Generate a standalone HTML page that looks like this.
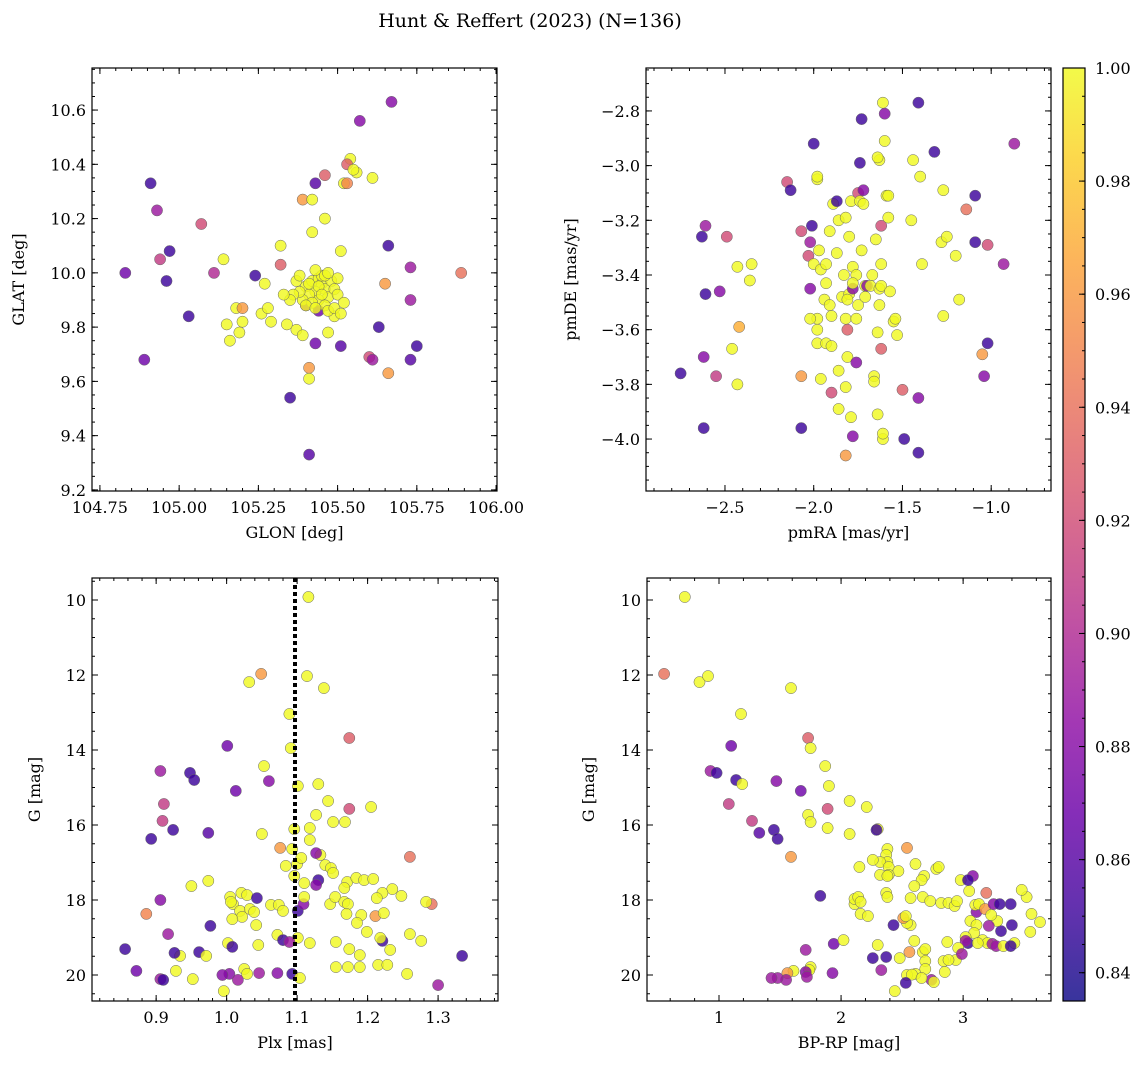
<!DOCTYPE html>
<html><head><meta charset="utf-8"><style>
html,body{margin:0;padding:0;background:#fff;}
svg{display:block;font-family:"DejaVu Serif","Liberation Serif",serif;}
</style></head><body>
<svg id="fig" width="1148" height="1068" viewBox="0 0 1148 1068" xmlns="http://www.w3.org/2000/svg">
<rect width="1148" height="1068" fill="#fff"/>
<text x="530" y="27" font-size="19" text-anchor="middle">Hunt &amp; Reffert (2023) (N=136)</text>
<defs><linearGradient id="cbg" x1="0" y1="1" x2="0" y2="0"></linearGradient></defs>
</svg>
<script>
// ---- Panel 1: GLON / GLAT ----
const lon1=[104.83,104.91,104.93,104.94,104.97,104.96,104.89,105.07,105.03,105.11,105.14,105.15,105.16,105.18,105.19,105.20,105.20,105.24,105.26,105.27,105.28,105.29,105.32,105.32,105.34,105.35,105.37,105.39,105.39,105.41,105.41,105.41,105.42,105.42,105.43,105.43,105.46,105.46,105.47,105.49,105.51,105.51,105.52,105.53,105.54,105.53,105.56,105.55,105.57,105.61,105.60,105.61,105.63,105.66,105.65,105.66,105.67,105.73,105.73,105.73,105.75,105.89,105.44,105.40,
105.40,105.42,105.44,105.45,105.43,105.41,105.39,105.46,105.47,105.44,105.42,105.48,105.45,105.38,105.36,105.40,105.46,105.49,105.50,105.47,105.43,105.41,105.37,105.44,105.46,105.49,105.52,105.35,105.38,105.50,105.43,105.47,105.33,105.51,105.45];
const lat1=[10.00,10.33,10.23,10.05,10.08,9.97,9.68,10.18,9.84,10.00,10.05,9.81,9.75,9.87,9.78,9.87,9.82,9.99,9.85,9.96,9.87,9.82,10.10,10.03,9.81,9.54,9.79,10.27,9.77,9.65,9.61,9.33,10.27,10.15,9.74,10.33,10.36,10.20,9.78,9.84,9.73,10.08,10.33,10.33,10.42,10.40,10.37,10.38,10.56,10.35,9.69,9.68,9.80,10.10,9.96,9.63,10.63,9.68,10.02,9.90,9.73,10.00,9.86,9.88,
9.95,9.97,9.98,9.96,9.93,9.92,9.90,9.94,9.91,9.90,9.89,9.97,9.99,9.93,9.92,9.88,9.88,9.94,9.92,9.86,9.87,9.96,9.97,9.95,9.99,9.87,9.89,9.90,9.99,9.98,10.01,10.00,9.92,9.85,9.92];
const prob1=[.87,.85,.89,.91,.85,.85,.87,.92,.85,.90,1,1,1,1,1,.96,1,.85,1,1,1,1,1,.93,1,.85,1,.96,1,.96,1,.86,1,1,.87,.86,.93,1,1,1,.86,1,1,.95,1,.93,1,1,.88,1,.92,.89,.85,.85,.96,.96,.88,.86,.89,.89,.85,.94,.87,.88,
1,1,1,1,1,1,1,1,1,1,1,1,1,1,1,1,1,1,1,1,1,1,1,1,1,1,1,1,1,1,1,1,1,1,1];
// ---- Panel 2: pmRA / pmDE ----
const pmra2=[-2.75,-2.62,-2.55,-2.63,-2.61,-2.61,-2.62,-2.53,-2.49,-2.35,-2.36,-2.42,-2.43,-2.46,-2.43,-2.15,-2.13,-2.00,-1.98,-1.98,-2.07,-2.01,-2.02,-2.03,-2.02,-2.07,-2.07,-2.00,-1.96,-1.97,-1.93,-1.91,-1.89,-1.87,-1.86,-1.87,-1.93,-1.94,-1.91,-1.90,-1.98,-1.98,-2.02,-1.98,-1.93,-1.96,-1.90,-1.90,-1.86,-1.86,-1.84,-1.82,-1.80,-1.78,-1.83,-1.81,-1.78,-1.76,-1.76,-1.80,-1.82,-1.79,-1.81,-1.74,-1.75,-1.74,-1.73,-1.78,-1.81,-1.82,-1.79,-1.78,-1.76,-1.82,-1.75,-1.71,-1.71,-1.70,-1.68,-1.67,-1.65,-1.63,-1.66,-1.66,-1.64,-1.64,-1.63,-1.62,-1.62,-1.62,-1.73,-1.72,-1.72,-1.63,-1.64,-1.61,-1.60,-1.59,-1.58,-1.60,-1.57,-1.58,-1.62,-1.61,-1.61,-1.55,-1.54,-1.53,-1.50,-1.49,-1.45,-1.44,-1.41,-1.41,-1.41,-1.40,-1.39,-1.32,-1.27,-1.27,-1.28,-1.25,-1.20,-1.18,-1.14,-1.09,-1.09,-1.05,-1.02,-1.04,-1.02,-0.93,-0.87];
const pmde2=[-3.76,-3.70,-3.77,-3.26,-3.22,-3.47,-3.96,-3.46,-3.26,-3.36,-3.42,-3.59,-3.37,-3.67,-3.80,-3.06,-3.09,-2.92,-3.05,-3.04,-3.24,-3.22,-3.28,-3.33,-3.45,-3.77,-3.96,-3.36,-3.38,-3.31,-3.36,-3.24,-3.14,-3.13,-3.20,-3.32,-3.43,-3.49,-3.51,-3.55,-3.60,-3.56,-3.56,-3.65,-3.65,-3.78,-3.66,-3.83,-3.75,-3.89,-3.48,-3.56,-3.47,-3.45,-3.40,-3.49,-3.37,-3.56,-3.40,-3.26,-3.19,-3.13,-3.60,-2.99,-3.10,-3.13,-3.31,-3.43,-3.70,-3.81,-3.92,-3.99,-3.72,-4.06,-3.51,-3.44,-3.48,-3.44,-3.44,-3.40,-3.27,-3.51,-3.77,-3.79,-3.91,-3.61,-3.45,-3.36,-3.44,-3.22,-2.83,-3.09,-3.14,-2.98,-2.97,-2.77,-2.91,-3.11,-3.11,-2.81,-3.46,-3.19,-3.67,-4.00,-3.98,-3.57,-3.56,-3.62,-3.82,-4.00,-3.20,-2.98,-2.77,-4.05,-3.85,-3.04,-3.36,-2.95,-3.55,-3.09,-3.28,-3.26,-3.33,-3.49,-3.16,-3.28,-3.11,-3.69,-3.65,-3.77,-3.29,-3.36,-2.92];
const prob2=[.85,.88,.91,.85,.89,.85,.85,.88,.92,1,1,.97,1,1,1,.92,.85,.85,1,1,.92,.85,.89,.92,.88,.96,.85,1,1,1,1,1,1,.85,1,1,1,1,1,1,1,1,1,1,1,1,1,.92,1,1,1,1,1,.88,1,1,1,1,1,1,1,1,.93,.85,.92,1,1,1,1,1,1,.88,.88,.96,1,1,1,.88,1,1,1,1,1,1,1,1,1,1,1,.92,.85,.88,1,1,1,1,1,1,1,.88,1,1,.93,1,1,1,1,1,.93,.85,1,1,.85,.85,.88,1,1,.85,1,1,1,1,1,1,.94,.85,.85,.96,.85,.88,.92,.89,.89];
// ---- Panel 3: Plx / G ----
const plx3=[1.116,1.049,1.032,1.114,1.138,1.089,1.174,1.001,1.091,1.053,0.906,0.948,0.954,1.060,1.130,1.101,1.013,1.144,0.911,1.174,1.205,1.127,1.151,0.909,0.974,0.924,1.050,1.118,1.168,1.096,0.893,1.076,1.093,1.118,1.260,1.133,1.127,1.100,1.084,1.096,1.106,1.140,1.148,1.151,1.130,1.127,1.110,1.171,1.167,1.184,1.195,1.208,1.235,1.221,0.950,0.974,0.906,1.005,1.009,1.021,1.029,1.043,1.006,1.019,1.022,1.033,1.039,1.063,1.074,1.080,1.101,1.109,1.110,1.147,1.154,1.167,1.172,1.170,1.191,1.213,1.211,1.223,1.248,1.291,1.283,0.886,0.917,1.008,0.977,1.042,1.072,1.101,1.118,1.080,1.089,1.155,1.221,1.218,1.185,1.199,1.260,1.276,1.002,1.008,1.045,0.961,0.934,0.926,0.971,0.856,1.174,1.232,1.189,1.215,1.228,1.025,1.046,1.072,1.029,1.004,0.994,1.016,0.952,0.996,0.928,0.906,0.910,0.872,1.093,1.104,1.155,1.172,1.189,1.256,1.300,1.334];
const g3=[9.92,11.97,12.19,12.03,12.35,13.04,13.68,13.89,13.95,14.43,14.56,14.61,14.80,14.83,14.91,14.96,15.09,15.36,15.44,15.57,15.52,15.73,15.92,15.89,16.21,16.13,16.24,16.08,15.92,16.11,16.37,16.61,16.64,16.40,16.85,16.80,16.75,17.04,17.09,17.36,16.88,17.07,17.15,17.28,17.47,17.60,17.55,17.52,17.68,17.41,17.47,17.44,17.71,17.81,17.63,17.49,18.00,17.92,18.11,17.81,17.87,17.95,18.05,18.29,18.45,18.24,18.32,18.13,18.13,18.29,18.29,18.11,17.92,18.11,17.92,18.05,18.11,18.37,18.40,17.95,18.43,18.35,17.89,18.11,18.05,18.37,18.91,18.51,18.69,18.67,18.93,19.01,19.15,19.07,19.12,19.12,19.09,19.01,18.61,18.85,18.91,19.09,19.15,19.25,19.20,19.39,19.49,19.41,19.49,19.31,19.31,19.33,19.47,19.73,19.73,19.84,19.95,19.95,19.97,19.97,20.00,20.13,20.11,20.43,19.89,20.11,20.13,19.89,19.97,20.08,19.79,19.79,19.79,19.97,20.27,19.49];
const prob3=[1,.96,1,1,1,1,.93,.87,1,1,.89,.85,.85,.88,1,1,.87,1,.91,.92,1,1,1,.91,.86,.85,1,1,1,1,.85,.96,1,1,.94,1,.88,1,1,1,1,1,1,1,.85,.88,1,1,1,1,1,1,1,1,1,1,.88,1,1,1,1,.85,1,1,1,1,1,1,1,1,.85,.88,1,1,1,1,1,1,1,1,.96,1,1,.94,1,.95,.89,1,.85,1,1,1,1,.85,.89,1,.85,1,1,1,1,1,1,.85,1,.85,1,.85,1,.85,1,1,1,1,1,1,.89,.88,1,.88,.88,.89,1,1,1,.89,.85,.87,.85,1,1,1,1,1,.89,.85];
// ---- Panel 4: BP-RP / G ----
const bprp4=[0.72,0.55,0.84,0.91,1.59,1.18,1.73,1.10,1.75,1.87,0.93,0.98,1.14,1.47,1.19,1.90,1.67,2.07,1.08,1.89,2.21,1.73,1.75,1.27,1.33,1.45,2.07,1.89,2.30,1.48,1.59,2.29,2.54,2.38,2.37,2.38,2.15,2.32,2.26,2.39,2.32,2.47,2.61,2.68,2.66,2.60,2.39,2.38,2.37,2.38,2.98,3.08,3.05,3.04,2.78,2.80,3.19,1.83,2.11,2.11,2.14,2.57,2.67,2.73,2.82,2.88,2.93,2.95,3.11,3.06,3.10,3.13,3.18,3.25,3.30,3.39,3.52,3.48,3.56,3.63,3.55,3.40,3.31,3.28,3.23,3.21,3.11,3.09,3.02,3.16,3.20,3.24,3.27,3.33,3.42,3.39,3.04,3.02,3.12,2.96,2.87,2.60,2.57,2.54,2.51,2.53,2.16,2.43,2.16,2.22,2.30,2.56,2.67,2.69,2.69,2.84,2.94,2.88,2.99,2.26,2.37,2.48,2.69,2.61,2.54,2.85,2.74,2.76,2.58,2.53,2.66,2.44,1.75,1.74,1.71,1.72,1.61,1.56,1.55,1.48,1.43,1.93,1.94,1.71,2.02,2.33];
const g4=[9.92,11.97,12.19,12.03,12.35,13.04,13.68,13.89,13.95,14.43,14.56,14.61,14.80,14.83,14.91,14.96,15.09,15.36,15.44,15.57,15.52,15.73,15.92,15.89,16.21,16.13,16.24,16.08,16.11,16.37,16.85,16.13,16.61,16.64,16.80,16.99,17.12,16.99,16.93,17.12,17.33,17.23,17.04,17.36,17.47,17.63,17.33,17.36,17.81,17.92,17.47,17.36,17.76,17.47,17.17,17.12,17.81,17.89,18.11,17.97,17.92,17.95,17.92,18.03,18.08,18.08,18.16,18.03,18.32,18.56,18.13,18.11,18.24,18.11,18.11,18.11,17.92,17.73,18.37,18.59,18.85,18.67,18.83,18.56,18.40,18.69,18.67,18.88,18.99,19.07,19.15,19.17,19.23,19.23,19.15,19.23,19.15,19.09,19.15,19.28,19.12,19.09,18.67,18.61,18.48,18.43,18.05,18.67,18.37,18.43,19.20,19.39,19.39,19.31,19.63,19.63,19.60,19.60,19.44,19.55,19.52,19.55,19.84,19.97,20.00,19.92,20.13,20.19,19.99,20.21,20.08,20.43,19.79,19.87,19.92,20.05,19.89,19.95,20.13,20.08,20.08,19.95,19.17,19.33,19.07,19.87];
const prob4=[1,.94,1,1,1,1,.93,.87,1,1,
.89,.85,.85,.88,1,1,.87,1,.91,.92,
1,1,1,.91,.86,.85,1,1,1,.85,
.96,.85,.96,1,1,1,1,1,1,1,
1,1,1,1,1,1,1,1,1,1,
1,.88,1,.85,1,1,.94,.85,1,1,
1,1,1,1,1,1,1,1,.88,1,
1,1,.96,.88,.85,.85,1,1,1,1,
1,.85,.85,1,1,.89,1,1,1,1,
1,.89,.89,1,1,.85,.85,.89,1,1,
1,1,1,1,.96,1,1,.85,1,1,
1,.96,1,1,1,1,1,1,.89,.85,
.85,1,1,1,1,1,.89,1,1,.85,
1,1,1,1,.88,.89,1,.96,.89,.89,
.89,.88,.87,.89,1,.89];
// ---- Colorbar ----
const cbTicks=[0.84,0.86,0.88,0.90,0.92,0.94,0.96,0.98,1.00];
const cbMin=0.835, cbMax=1.0;

const NS='http://www.w3.org/2000/svg';
const svg=document.getElementById('fig');
function el(tag,attrs,parent){const e=document.createElementNS(NS,tag);for(const k in attrs)e.setAttribute(k,attrs[k]);(parent||svg).appendChild(e);return e;}
const stops=['#0d0887','#41049d','#6a00a8','#8f0da4','#b12a90','#cc4778','#e16462','#f2844b','#fca636','#fcce25','#f0f921'];
function hex(h){return [parseInt(h.substr(1,2),16),parseInt(h.substr(3,2),16),parseInt(h.substr(5,2),16)];}
function plasma(t){if(!isFinite(t))t=1;t=Math.max(0,Math.min(1,t));const s=t*10,i=Math.min(9,Math.floor(s)),f=s-i;const a=hex(stops[i]),b=hex(stops[i+1]);return 'rgb('+a.map((v,k)=>Math.round(v+(b[k]-v)*f)).join(',')+')';}
function cmap(p){return plasma((p-cbMin)/(cbMax-cbMin));}
function fmtMinus(s){return s.replace('-','\u2212');}

function panel(cfg){
  const g=el('g',{});
  
  
  const sx=v=>cfg.L+(v-cfg.x0)/(cfg.x1-cfg.x0)*(cfg.R-cfg.L);
  const sy=v=>cfg.B-(v-cfg.y0)/(cfg.y1-cfg.y0)*(cfg.B-cfg.T);
  const pg=el('g',{},g);
  
  
  const n=Math.min(cfg.xs.length,cfg.ys.length);
  for(let i=0;i<n;i++){
    const pc=cfg.cs[i]===undefined?1:cfg.cs[i];
    const c=el('circle',{cx:sx(cfg.xs[i]).toFixed(1),cy:sy(cfg.ys[i]).toFixed(1),r:5.6,fill:cmap(pc),'fill-opacity':0.82,stroke:'#666','stroke-width':0.5},pg);
    
    
  }
  if(cfg.vline!==undefined){
    const l=el('line',{x1:sx(cfg.vline),x2:sx(cfg.vline),y1:cfg.T,y2:cfg.B,stroke:'#000','stroke-width':4,'stroke-dasharray':'4,3'},g);
    
    
  }
  const fr=el('rect',{x:cfg.L,y:cfg.T,width:cfg.R-cfg.L,height:cfg.B-cfg.T,fill:'none',stroke:'#000','stroke-width':1.2},g);
  
  
  const tg=el('g',{stroke:'#000','stroke-width':1},g);
  const eps=1e-9;
  function rng(a,b,st){const out=[];const s=Math.ceil((a-eps)/st);for(let k=s;k*st<=b+eps;k++)out.push(+(k*st).toFixed(6));return out;}
  const lo=Math.min(cfg.x0,cfg.x1),hi=Math.max(cfg.x0,cfg.x1);
  rng(lo,hi,cfg.xmin).forEach(v=>{const x=sx(v);el('line',{x1:x,x2:x,y1:cfg.B,y2:cfg.B-3},tg);el('line',{x1:x,x2:x,y1:cfg.T,y2:cfg.T+3},tg);});
  rng(lo,hi,cfg.xmaj).forEach(v=>{const x=sx(v);el('line',{x1:x,x2:x,y1:cfg.B,y2:cfg.B-6},tg);el('line',{x1:x,x2:x,y1:cfg.T,y2:cfg.T+6},tg);
    const t=el('text',{x:x,y:cfg.B+22,'font-size':16,'text-anchor':'middle'},g);t.textContent=fmtMinus(v.toFixed(cfg.xd));
    });
  const ylo=Math.min(cfg.y0,cfg.y1),yhi=Math.max(cfg.y0,cfg.y1);
  rng(ylo,yhi,cfg.ymin).forEach(v=>{const y=sy(v);el('line',{x1:cfg.L,x2:cfg.L+3,y1:y,y2:y},tg);el('line',{x1:cfg.R,x2:cfg.R-3,y1:y,y2:y},tg);});
  rng(ylo,yhi,cfg.ymaj).forEach(v=>{const y=sy(v);el('line',{x1:cfg.L,x2:cfg.L+6,y1:y,y2:y},tg);el('line',{x1:cfg.R,x2:cfg.R-6,y1:y,y2:y},tg);
    const t=el('text',{x:cfg.L-6,y:y+6,'font-size':16,'text-anchor':'end'},g);t.textContent=fmtMinus(v.toFixed(cfg.yd));
    });
  const xl=el('text',{x:(cfg.L+cfg.R)/2,y:cfg.B+47,'font-size':16,'text-anchor':'middle'},g);xl.textContent=cfg.xlabel;
  
  const yx=cfg.ylx, yy=(cfg.T+cfg.B)/2;
  const yl=el('text',{x:yx,y:yy,'font-size':16,'text-anchor':'middle',transform:'rotate(-90 '+yx+' '+yy+')'},g);yl.textContent=cfg.ylabel;
  
}
panel({name:'sky-position-panel',L:92,R:497,T:68,B:491,x0:104.725,x1:106.003,y0:9.196,y1:10.755,xmaj:0.25,xmin:0.05,ymaj:0.2,ymin:0.05,xd:2,yd:1,xs:lon1,ys:lat1,cs:prob1,xlabel:'GLON [deg]',ylabel:'GLAT [deg]',ylx:24});
panel({name:'proper-motion-panel',L:646,R:1051,T:68,B:491,x0:-2.945,x1:-0.663,y0:-4.190,y1:-2.643,xmaj:0.5,xmin:0.1,ymaj:0.2,ymin:0.05,xd:1,yd:1,xs:pmra2,ys:pmde2,cs:prob2,xlabel:'pmRA [mas/yr]',ylabel:'pmDE [mas/yr]',ylx:576});
panel({name:'parallax-magnitude-panel',L:92,R:498,T:578,B:1001,x0:0.809,x1:1.385,y0:20.693,y1:9.413,xmaj:0.1,xmin:0.02,ymaj:2,ymin:0.5,xd:1,yd:0,xs:plx3,ys:g3,cs:prob3,xlabel:'Plx [mas]',ylabel:'G [mag]',ylx:40,vline:1.097});
panel({name:'color-magnitude-panel',L:647,R:1051,T:578,B:1001,x0:0.41,x1:3.72,y0:20.693,y1:9.413,xmaj:1,xmin:0.2,ymaj:2,ymin:0.5,xd:0,yd:0,xs:bprp4,ys:g4,cs:prob4,xlabel:'BP-RP [mag]',ylabel:'G [mag]',ylx:594});

// colorbar
const grad=document.getElementById('cbg');
for(let i=0;i<=20;i++){el('stop',{offset:(i/20),'stop-color':plasma(i/20)},grad);}
const cb=el('g',{});


const CL=1063,CR=1085,CT=68,CB=1001;
const cy=v=>CB-(v-cbMin)/(cbMax-cbMin)*(CB-CT);
el('rect',{x:CL,y:CT,width:CR-CL,height:CB-CT,fill:'url(#cbg)','fill-opacity':0.82},cb);
el('rect',{x:CL,y:CT,width:CR-CL,height:CB-CT,fill:'none',stroke:'#000','stroke-width':1.2},cb);
for(let v=0.835;v<=1.0001;v+=0.005){const y=cy(v);el('line',{x1:CR,x2:CR-3,y1:y,y2:y,stroke:'#000'},cb);}
cbTicks.forEach(v=>{const y=cy(v);el('line',{x1:CR,x2:CR-6,y1:y,y2:y,stroke:'#000'},cb);
  const t=el('text',{x:CR+10,y:y+6,'font-size':16},cb);t.textContent=v.toFixed(2);
  });
</script>
</body></html>
